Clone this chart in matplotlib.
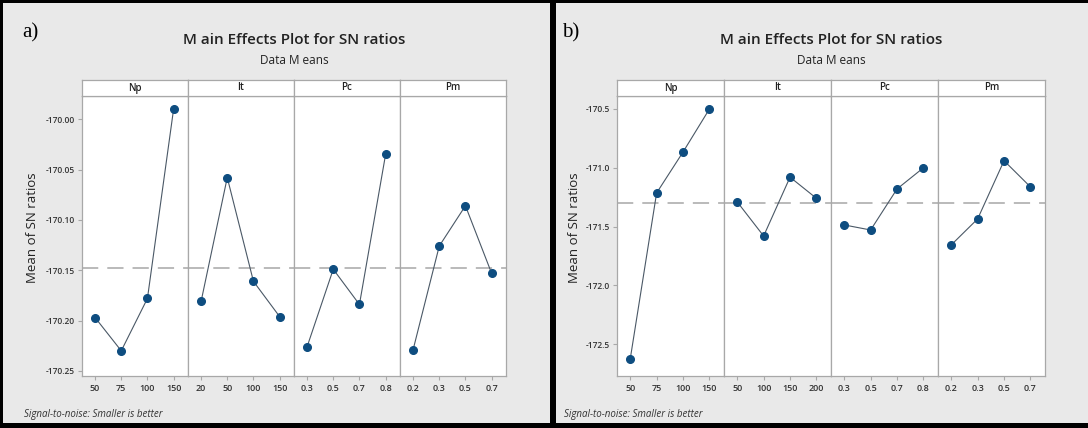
import matplotlib
matplotlib.use("Agg")
import matplotlib.pyplot as plt
from matplotlib.patches import Rectangle

W, H = 1088, 428

factors = ["Np", "It", "Pc", "Pm"]

# panel a) levels and SN means
levels_a = {
    "Np": ["50", "75", "100", "150"],
    "It": ["20", "50", "100", "150"],
    "Pc": ["0.3", "0.5", "0.7", "0.8"],
    "Pm": ["0.2", "0.3", "0.5", "0.7"],
}
sn_a = {
    "Np": [-170.197, -170.230, -170.178, -169.990],
    "It": [-170.181, -170.058, -170.161, -170.196],
    "Pc": [-170.226, -170.149, -170.184, -170.035],
    "Pm": [-170.229, -170.126, -170.086, -170.153],
}
mean_a = -170.148
yticks_a = [-170.00, -170.05, -170.10, -170.15, -170.20, -170.25]
ylim_a = (-170.255, -169.977)

# panel b)
levels_b = {
    "Np": ["50", "75", "100", "150"],
    "It": ["50", "100", "150", "200"],
    "Pc": ["0.3", "0.5", "0.7", "0.8"],
    "Pm": ["0.2", "0.3", "0.5", "0.7"],
}
sn_b = {
    "Np": [-172.626, -171.214, -170.866, -170.500],
    "It": [-171.290, -171.580, -171.080, -171.260],
    "Pc": [-171.486, -171.529, -171.180, -171.000],
    "Pm": [-171.656, -171.435, -170.940, -171.163],
}
mean_b = -171.30
yticks_b = [-170.5, -171.0, -171.5, -172.0, -172.5]
ylim_b = (-172.77, -170.39)

SANS = ["Open Sans", "DejaVu Sans"]
BG = "#e9e9e9"
SPINE = "#a8a8a8"
LINE = "#4a5866"
MARK = "#0e4d80"


def box(x0, y0, x1, y1):
    return [x0 / W, 1 - y1 / H, (x1 - x0) / W, (y1 - y0) / H]


fig = plt.figure(figsize=(W / 100, H / 100), dpi=100, facecolor="black")
for x0, x1 in [(3, 550), (556, W)]:
    fig.patches.append(Rectangle((x0 / W, 5 / H), (x1 - x0) / W, (425 - 5) / H,
                                 transform=fig.transFigure, facecolor=BG,
                                 edgecolor="none", zorder=-5))


def draw_panel(px0, step, tag, tagx, ylab_x, note_x, levels, sn, mean, yticks, ylim, fmt):
    px1 = px0 + 4 * step
    cx = (px0 + px1) / 2
    fig.text(tagx / W, 1 - 33 / H, tag, fontsize=15, family="Liberation Serif",
             va="center", ha="left")
    fig.text(cx / W, 1 - 40 / H, "M ain Effects Plot for SN ratios", fontsize=11,
             family=SANS, weight="semibold", ha="center", va="center", color="#222222")
    fig.text(cx / W, 1 - 61 / H, "Data M eans", fontsize=8.5, family=SANS,
             ha="center", va="center", color="#222222")
    fig.text(ylab_x / W, 1 - 228 / H, "Mean of SN ratios", fontsize=9.5,
             family=SANS, rotation=90, ha="center", va="center", color="#222222")
    fig.text(note_x / W, 1 - 414 / H, "Signal-to-noise: Smaller is better",
             fontsize=7, family=SANS, style="italic", ha="left", va="center",
             color="#333333")
    for i, f in enumerate(factors):
        a0 = px0 + i * step
        a1 = a0 + step
        ax = fig.add_axes(box(a0, 96, a1, 376))
        ax.set_facecolor("white")
        x = list(range(1, 5))
        ax.axhline(mean, color="#b4b4b4", lw=1.3, dashes=(9, 5), zorder=1)
        ax.plot(x, sn[f], color=LINE, lw=0.8, zorder=2)
        ax.plot(x, sn[f], "o", color=MARK, ms=5.5, zorder=3)
        ax.set_xlim(0.5, 4.55)
        ax.set_ylim(*ylim)
        ax.set_xticks(x)
        ax.set_xticklabels(levels[f], fontsize=6.5, family=SANS, weight="semibold",
                           color="#333333")
        ax.tick_params(axis="x", length=3, color=SPINE, pad=3)
        if i == 0:
            ax.set_yticks(yticks)
            ax.set_yticklabels([fmt.format(v) for v in yticks], fontsize=6,
                               family=SANS, weight="semibold", color="#333333")
            ax.tick_params(axis="y", length=3, color=SPINE, pad=2)
        else:
            ax.set_yticks([])
        for s in ax.spines.values():
            s.set_color(SPINE)
            s.set_linewidth(0.9)
        sx = fig.add_axes(box(a0, 80, a1, 96))
        sx.set_facecolor("white")
        sx.set_xticks([])
        sx.set_yticks([])
        for s in sx.spines.values():
            s.set_color(SPINE)
            s.set_linewidth(0.9)
        sx.text(0.5, 0.5, f, transform=sx.transAxes, ha="center", va="center",
                fontsize=7, family=SANS, weight="semibold", color="#222222")


draw_panel(82, 106, "a)", 22, 33, 24, levels_a, sn_a, mean_a, yticks_a, ylim_a, "{:.2f}")
draw_panel(617, 107, "b)", 562, 574, 564, levels_b, sn_b, mean_b, yticks_b, ylim_b, "{:.1f}")

fig.savefig("out.png", dpi=100, facecolor=fig.get_facecolor())
